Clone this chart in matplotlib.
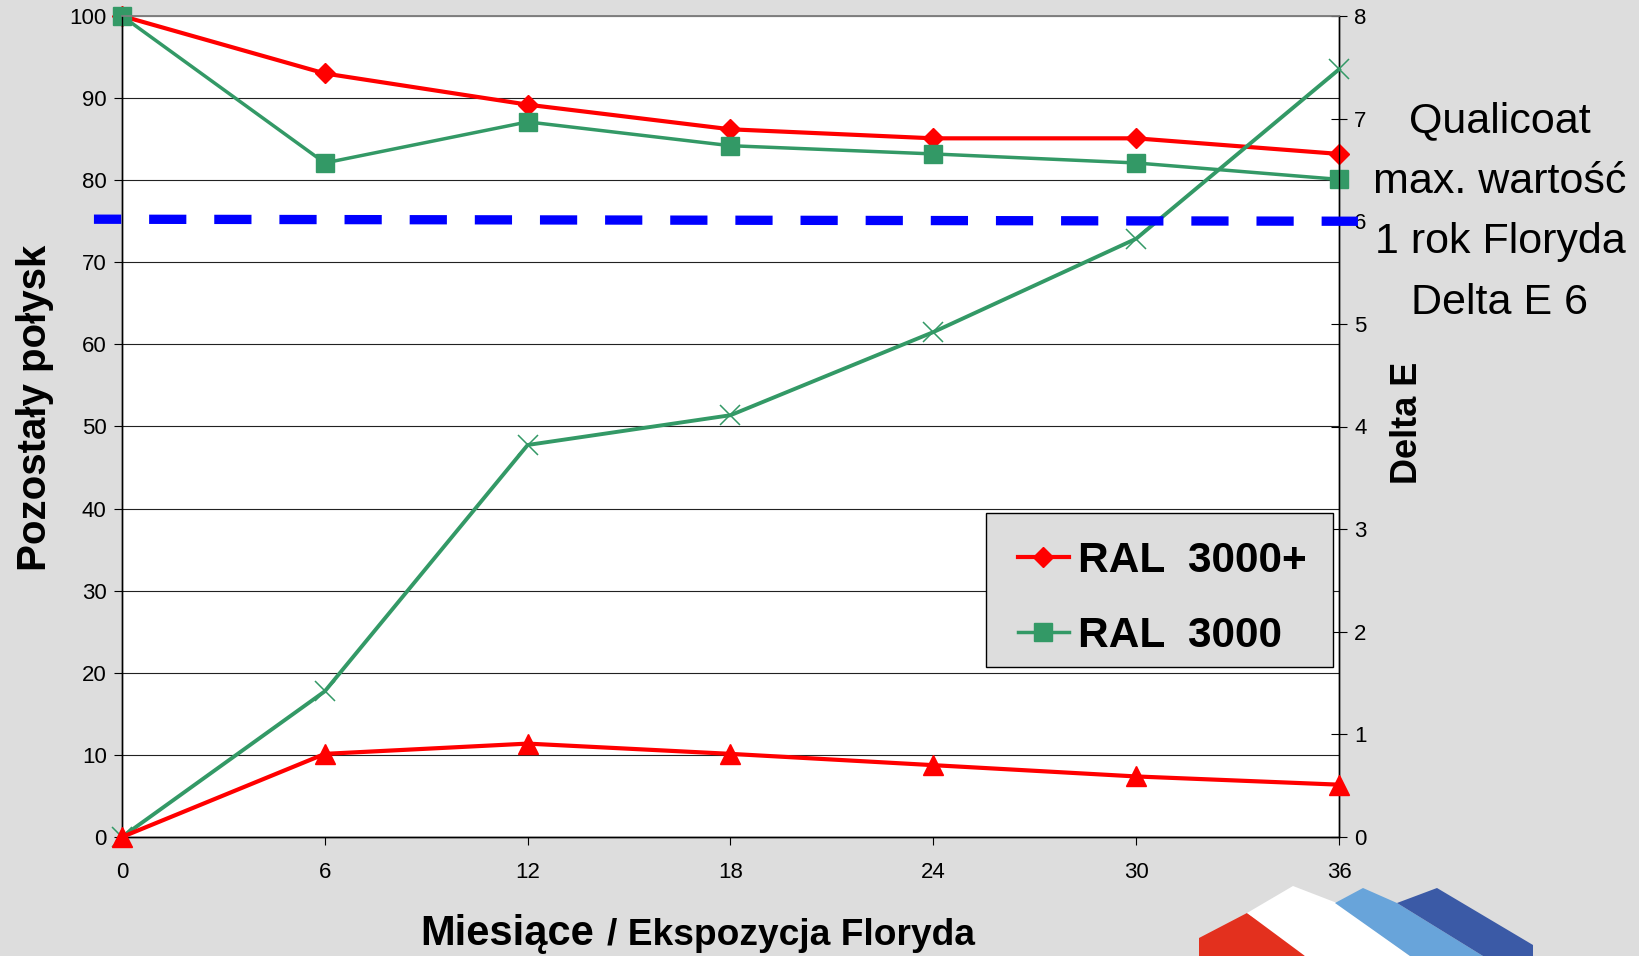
import matplotlib.pyplot as plt
from matplotlib.patches import Polygon, Rectangle

plt.rcParams['font.family'] = ['Liberation Sans', 'DejaVu Sans']

# months of Florida exposure
months = [0, 6, 12, 18, 24, 30, 36]
# remaining gloss, % (left axis)
gloss_3000_plus = [100, 93.0, 89.2, 86.2, 85.1, 85.1, 83.2]
gloss_3000 = [100, 82.1, 87.1, 84.2, 83.2, 82.1, 80.1]
# colour change, Delta E (right axis)
delta_e_3000 = [0, 1.42, 3.82, 4.11, 4.92, 5.83, 7.48]
delta_e_3000_plus = [0, 0.81, 0.91, 0.81, 0.70, 0.59, 0.51]
# Qualicoat limit line
limit_x = [-0.83, 36.56]
limit_delta_e = [6.02, 6.0]
legend_labels = ["RAL  3000+", "RAL  3000"]

RED = "#FF0000"
GREEN = "#339966"
BLUE = "#0000FF"
BG = "#DDDDDD"
W, H = 1640, 956

fig = plt.figure(figsize=(W / 100, H / 100), dpi=100)
fig.patch.set_facecolor(BG)
ax = fig.add_axes([122 / W, 1 - 837 / H, (1339 - 122) / W, (837 - 16) / H])
ax.set_facecolor("white")
ax2 = ax.twinx()

# gloss lines
l1, = ax.plot(months, gloss_3000_plus, color=RED, lw=3, marker="D", ms=10,
              clip_on=False, zorder=4)
l2, = ax.plot(months, gloss_3000, color=GREEN, lw=2.5, marker="s", ms=13,
              clip_on=False, zorder=4)

# delta E lines
ax2.plot(months, delta_e_3000, color=GREEN, lw=2.8, marker="x", ms=15, mew=1.1,
         clip_on=False, zorder=3)
ax2.plot(months, delta_e_3000_plus, color=RED, lw=3, marker="^", ms=14,
         clip_on=False, zorder=3)
ax2.plot(limit_x, limit_delta_e, color=BLUE, lw=6.7, ls=(1.07, (4, 3)),
         dash_capstyle="butt", clip_on=False, zorder=5)

ax.set_xlim(0, 36)
ax.set_ylim(0, 100)
ax2.set_ylim(0, 8)
ax.set_xticks(months)
ax.set_yticks(range(0, 101, 10))
ax2.set_yticks(range(0, 9))

ax.grid(axis="y", color="#222222", lw=0.8)
ax.set_axisbelow(True)

ax.tick_params(axis="y", direction="out", length=6, width=0.8, labelsize=16, pad=5)
ax.tick_params(axis="x", direction="out", length=6, width=0.8, labelsize=16, pad=12)
ax2.tick_params(axis="y", direction="inout", length=12, width=0.8, labelsize=16, pad=5)

for a in (ax, ax2):
    a.spines["top"].set_color("#808080")
    a.spines["top"].set_linewidth(1.2)
    for s in ("left", "right", "bottom"):
        a.spines[s].set_color("black")
        a.spines[s].set_linewidth(1)

ax.set_ylabel("Pozostały połysk", fontsize=29, fontweight="bold")
ax.yaxis.set_label_coords(54 / W, 1 - 408 / H, transform=fig.transFigure)
ax2.set_ylabel("Delta E", fontsize=26, fontweight="bold")
ax2.yaxis.set_label_coords(1390 / W, 1 - 423 / H, transform=fig.transFigure)

# x label in two sizes
t1 = fig.text(420 / W, 1 - 945 / H, "Miesiące", fontsize=30, fontweight="bold",
              ha="left", va="baseline")
fig.canvas.draw()
bb = t1.get_window_extent(renderer=fig.canvas.get_renderer())
fig.text((bb.x1 + 13) / W, 1 - 945 / H, "/ Ekspozycja Floryda", fontsize=26.7,
         fontweight="bold", ha="left", va="baseline")

fig.text(1500 / W, 1 - 212 / H, "Qualicoat\nmax. wartość\n1 rok Floryda\nDelta E 6",
         fontsize=31, ha="center", va="center", linespacing=1.66)

# legend: own frame, entries placed inside it
ax2.add_patch(Rectangle((986 / W, 1 - 667 / H), (1333 - 986) / W, (667 - 513) / H,
                        transform=fig.transFigure, facecolor=BG, edgecolor="black",
                        lw=1, clip_on=False, zorder=9))
leg = ax2.legend([l1, l2], legend_labels, loc="upper left",
                 bbox_to_anchor=(1018 / W, 1 - 541 / H),
                 bbox_transform=fig.transFigure, borderaxespad=0, borderpad=0,
                 prop={"size": 30.5, "weight": "bold"}, handlelength=1.2,
                 handletextpad=0.22, labelspacing=0.83, frameon=False)
leg.set_zorder(10)

# logo fragment, bottom right
logo = [
    ("#E3301E", [(1199, 938), (1247, 913), (1300, 948), (1305, 956), (1199, 956)]),
    ("white", [(1247, 913), (1293, 886), (1337, 903), (1410, 956), (1305, 956)]),
    ("#68A4DA", [(1335, 903), (1363, 888), (1397, 903), (1483, 956), (1410, 956)]),
    ("#3B5AA6", [(1397, 903), (1437, 888), (1533, 945), (1533, 956), (1483, 956)]),
]
for col, pts in logo:
    fig.add_artist(Polygon([(x / W, 1 - y / H) for x, y in pts], closed=True,
                           facecolor=col, edgecolor="none",
                           transform=fig.transFigure))

fig.savefig("out.png", dpi=100, facecolor=BG)
